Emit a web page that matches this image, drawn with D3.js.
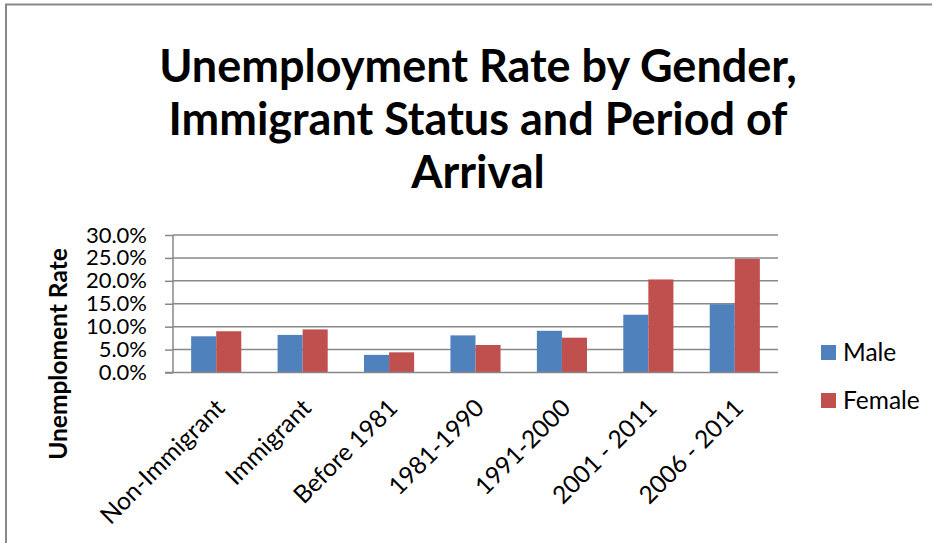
<!DOCTYPE html>
<html><head><meta charset="utf-8">
<script src="https://cdn.jsdelivr.net/npm/d3@7/dist/d3.min.js"></script>
<style>body{margin:0;background:#fff;} svg{display:block;}</style>
</head><body>
<script>
const categories = ["Non-Immigrant","Immigrant","Before 1981","1981-1990","1991-2000","2001 - 2011","2006 - 2011"];
const seriesNames = ["Male","Female"];
const maleValues = [0.079,0.082,0.0385,0.081,0.091,0.126,0.149];
const femaleValues = [0.090,0.094,0.044,0.060,0.076,0.203,0.248];
const yTicks = [0,0.05,0.10,0.15,0.20,0.25,0.30];
const colors = ["#4F81BD","#C0504D"];
const titleLines = ["Unemployment Rate by Gender,","Immigrant Status and Period of","Arrival"];
const yTitle = "Unemploment Rate";

const W=935,H=543;
const font = "Lato, 'Open Sans', sans-serif";
const svg = d3.select("body").append("svg").attr("width",W).attr("height",H);

// frame
svg.append("path").attr("d","M6,543 L6,4.5 L932,4.5").attr("fill","none").attr("stroke","#888").attr("stroke-width",2);

const x0 = d3.scaleBand().domain(categories).range([173,778]).paddingInner(0.42).paddingOuter(0.21);
const x1 = d3.scaleBand().domain(seriesNames).range([0,x0.bandwidth()]);
const y = d3.scaleLinear().domain([0,0.30]).range([372.5,235]);

// gridlines
svg.append("g").selectAll("line").data(yTicks.slice(1)).join("line")
  .attr("x1",173).attr("x2",778).attr("y1",d=>y(d)).attr("y2",d=>y(d))
  .attr("stroke","#888").attr("stroke-width",1.5);

// bars
const data = categories.map((c,i)=>({c, vals:[maleValues[i],femaleValues[i]]}));
const g = svg.append("g").selectAll("g").data(data).join("g").attr("transform",d=>`translate(${x0(d.c)},0)`);
g.selectAll("rect").data(d=>d.vals.map((v,j)=>({v,s:seriesNames[j],j}))).join("rect")
  .attr("x",d=>x1(d.s)).attr("width",x1.bandwidth())
  .attr("y",d=>y(d.v)).attr("height",d=>y(0)-y(d.v))
  .attr("fill",d=>colors[d.j]);

// y axis
const yAxis = d3.axisLeft(y).tickValues(yTicks).tickFormat(d3.format(".1%")).tickSize(8).tickPadding(18);
const ya = svg.append("g").attr("transform","translate(173,0)").call(yAxis);
ya.select(".domain").attr("stroke","#888").attr("stroke-width",1.5).attr("d","M0,235V372.5");
ya.selectAll(".tick line").attr("stroke","#888").attr("stroke-width",1.5);
ya.selectAll(".tick text").attr("font-family",font).attr("font-size",22).attr("fill","#000");

// x axis
const xa = svg.append("g").attr("transform","translate(0,372.5)").call(d3.axisBottom(x0).tickSize(0).tickPadding(0));
xa.select(".domain").attr("stroke","#888").attr("stroke-width",1.5).attr("d","M165,0H778");
xa.selectAll(".tick text").attr("font-family",font).attr("font-size",24.5).attr("fill","#000")
  .attr("text-anchor","end").attr("dy","0.35em")
  .attr("transform","translate(4,31) rotate(-45)");

// title
svg.append("g").selectAll("text").data(titleLines).join("text")
  .attr("x",478).attr("y",(d,i)=>82+i*53).attr("text-anchor","middle")
  .attr("font-family",font).attr("font-weight","bold").attr("font-size",45).attr("fill","#000")
  .text(d=>d);

// y title
svg.append("text").attr("transform","translate(67,354) rotate(-90)").attr("text-anchor","middle")
  .attr("font-family",font).attr("font-weight","bold").attr("font-size",24.5).text(yTitle);

// legend
const lg = svg.append("g").selectAll("g").data(seriesNames).join("g")
  .attr("transform",(d,i)=>`translate(821,${345+i*48})`);
lg.append("rect").attr("width",15).attr("height",15).attr("fill",(d,i)=>colors[i]);
lg.append("text").attr("x",22).attr("y",7.5).attr("dy","0.35em").attr("font-family",font).attr("font-size",24.5).text(d=>d);
</script>
</body></html>
